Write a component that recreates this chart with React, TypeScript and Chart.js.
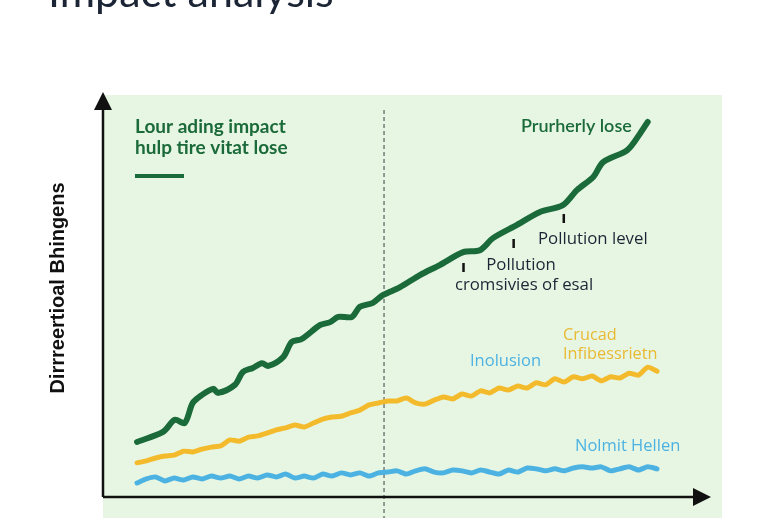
import React, { useEffect, useRef } from "react";
import { Chart, registerables } from "chart.js";

Chart.register(...registerables);

const noisyX = [5.5, 7, 8.5, 10, 11.5, 13, 14.5, 16, 17.5, 19, 20.5, 22, 23.5, 25, 26.5, 28, 29.5, 31, 32.5, 34, 35.5, 37, 38.5, 40, 41.5, 43, 44.5, 46, 47.5, 49, 50.5, 52, 53.5, 55, 56.5, 58, 59.5, 61, 62.5, 64, 65.5, 67, 68.5, 70, 71.5, 73, 74.5, 76, 77.5, 79, 80.5, 82, 83.5, 85, 86.5, 88, 89.5];

const yellowValues = [8.5, 9.0, 9.7, 10.2, 10.4, 11.4, 11.2, 11.9, 12.4, 12.7, 14.2, 13.9, 14.9, 15.2, 15.9, 16.7, 17.2, 17.9, 17.4, 18.4, 19.4, 19.9, 20.1, 20.9, 21.6, 22.9, 23.4, 23.9, 23.9, 24.6, 23.4, 23.1, 24.1, 24.9, 24.4, 25.6, 25.1, 26.4, 25.9, 27.1, 26.6, 27.6, 27.1, 28.4, 27.9, 29.4, 28.6, 29.9, 29.4, 30.1, 28.9, 29.9, 29.6, 30.8, 30.3, 32.3, 31.3];

const blueValues = [3.5, 4.5, 5.0, 4.0, 4.7, 4.2, 5.0, 4.5, 5.2, 4.7, 5.2, 4.5, 5.2, 4.7, 5.5, 5.0, 5.7, 4.7, 5.2, 4.7, 5.7, 5.2, 6.0, 5.5, 6.0, 5.2, 6.0, 6.2, 6.5, 5.7, 6.5, 7.0, 6.2, 6.0, 6.7, 6.5, 6.0, 6.7, 6.2, 5.7, 6.7, 6.2, 7.2, 7.0, 6.5, 7.0, 6.5, 7.2, 7.5, 7.2, 7.5, 6.5, 7.0, 7.5, 6.7, 7.5, 7.0];

const greenX = [5.5, 9.7, 11.6, 13.2, 14.5, 16.0, 17.8, 18.6, 21.3, 22.6, 24.2, 25.7, 26.7, 29.1, 30.5, 32.1, 35.1, 36.7, 38.0, 40.2, 41.5, 43.6, 45.2, 48.0, 51.2, 54.4, 58.2, 60.9, 63.0, 66.9, 70.6, 74.3, 76.6, 79.2, 80.8, 84.7, 86.8, 88.0];
const greenValues = [13.7, 16.2, 19.2, 18.4, 23.4, 25.4, 26.9, 25.9, 27.9, 31.1, 32.1, 33.3, 32.6, 34.8, 38.6, 39.3, 42.8, 43.5, 44.8, 44.8, 47.3, 48.3, 50.2, 52.2, 55.2, 57.7, 60.9, 61.4, 64.4, 67.7, 70.9, 72.6, 76.4, 79.6, 83.3, 86.3, 90.5, 93.3];

const dividerX = 45.4;
const markerX = [58.2, 66.3, 74.4];

const TITLE = "Impact analysis";
const NOTE_LINES = ["Lour ading impact", "hulp tire vitat lose"];
const Y_TITLE = "Dirrreertioal Bhingens";

const GREEN = "#1b6a3a";
const YELLOW = "#f3bb2c";
const BLUE = "#4cb2e2";
const NAVY = "#1b2535";

const decorPlugin = {
  id: "decor",
  beforeDraw(chart: any) {
    const ctx = chart.ctx;
    const a = chart.chartArea;
    ctx.save();
    ctx.fillStyle = "#ffffff";
    ctx.fillRect(0, 0, chart.width, chart.height);
    ctx.fillStyle = "#e7f6e3";
    ctx.fillRect(a.left, a.top, 619, chart.height - a.top);
    ctx.restore();
  },
  beforeDatasetsDraw(chart: any) {
    const ctx = chart.ctx;
    const xs = chart.scales.x;
    const px = xs.getPixelForValue(dividerX);
    ctx.save();
    ctx.strokeStyle = "#3a3f45";
    ctx.lineWidth = 1;
    ctx.setLineDash([4, 3]);
    ctx.beginPath();
    ctx.moveTo(px, 110);
    ctx.lineTo(px, chart.height);
    ctx.stroke();
    ctx.restore();
  },
  afterDraw(chart: any) {
    const ctx = chart.ctx;
    const a = chart.chartArea;
    const xs = chart.scales.x;
    ctx.save();
    // axes
    ctx.strokeStyle = "#111111";
    ctx.fillStyle = "#111111";
    ctx.lineWidth = 2.5;
    ctx.beginPath();
    ctx.moveTo(a.left, a.bottom);
    ctx.lineTo(a.left, 106);
    ctx.stroke();
    ctx.beginPath();
    ctx.moveTo(a.left, 92);
    ctx.lineTo(a.left - 9, 110);
    ctx.lineTo(a.left + 9, 110);
    ctx.closePath();
    ctx.fill();
    ctx.beginPath();
    ctx.moveTo(a.left, a.bottom);
    ctx.lineTo(696, a.bottom);
    ctx.stroke();
    ctx.beginPath();
    ctx.moveTo(711, a.bottom);
    ctx.lineTo(693, a.bottom - 9);
    ctx.lineTo(693, a.bottom + 9);
    ctx.closePath();
    ctx.fill();

    // title (cut off at top)
    ctx.fillStyle = NAVY;
    ctx.font = "43px Lato";
    ctx.textBaseline = "alphabetic";
    ctx.textAlign = "left";
    ctx.fillText(TITLE, 48, 7);

    // y title
    ctx.save();
    ctx.translate(58, 288);
    ctx.rotate(-Math.PI / 2);
    ctx.font = "bold 20px 'Liberation Sans'";
    ctx.fillStyle = "#111111";
    ctx.textAlign = "center";
    ctx.textBaseline = "middle";
    ctx.fillText(Y_TITLE, 0, 0);
    ctx.restore();

    // note top-left
    ctx.fillStyle = GREEN;
    ctx.font = "bold 19px Lato";
    ctx.textBaseline = "middle";
    ctx.fillText(NOTE_LINES[0], 135, 127);
    ctx.fillText(NOTE_LINES[1], 135, 148);
    ctx.fillRect(135, 174, 49, 4);

    // series labels
    ctx.font = "600 18px Lato";
    ctx.fillStyle = GREEN;
    ctx.fillText("Prurherly lose", 521, 126);

    ctx.font = "16.8px 'Open Sans'";
    ctx.fillStyle = NAVY;
    ctx.fillText("Pollution level", 538, 239);
    ctx.textAlign = "center";
    ctx.fillText("Pollution", 521, 265);
    ctx.fillText("cromsivies of esal", 524, 285);
    ctx.textAlign = "left";

    // markers
    ctx.fillStyle = "#111111";
    const markerTop = [263, 239, 214];
    markerX.forEach((mx, i) => {
      const p = xs.getPixelForValue(mx);
      ctx.fillRect(p - 1, markerTop[i], 2.5, 9);
    });

    ctx.font = "16.3px 'Open Sans'";
    ctx.fillStyle = "#e9b934";
    ctx.fillText("Crucad", 563, 335);
    ctx.fillText("Infibessrietn", 563, 354);

    ctx.fillStyle = BLUE;
    ctx.font = "16.5px 'Open Sans'";
    ctx.fillText("Inolusion", 470, 361);
    ctx.fillText("Nolmit Hellen", 575, 446);
    ctx.restore();
  },
};

export default function App() {
  const ref = useRef<HTMLCanvasElement | null>(null);
  useEffect(() => {
    if (!ref.current) return;
    const chart = new Chart(ref.current, {
      type: "line",
      data: {
        datasets: [
          {
            label: "Green",
            data: greenX.map((x, i) => ({ x, y: greenValues[i] })),
            borderColor: GREEN,
            borderWidth: 6,
            pointRadius: 0,
            tension: 0.3,
            borderCapStyle: "round",
            borderJoinStyle: "round",
          },
          {
            label: "Yellow",
            data: noisyX.map((x, i) => ({ x, y: yellowValues[i] })),
            borderColor: YELLOW,
            borderWidth: 5,
            pointRadius: 0,
            tension: 0.2,
            borderCapStyle: "round",
            borderJoinStyle: "round",
          },
          {
            label: "Blue",
            data: noisyX.map((x, i) => ({ x, y: blueValues[i] })),
            borderColor: BLUE,
            borderWidth: 5,
            pointRadius: 0,
            tension: 0.2,
            borderCapStyle: "round",
            borderJoinStyle: "round",
          },
        ],
      },
      options: {
        responsive: false,
        animation: false,
        devicePixelRatio: 1,
        layout: { padding: { left: 103, right: 48, top: 95, bottom: 21 } },
        scales: {
          x: { type: "linear", min: 0, max: 100, display: false },
          y: { type: "linear", min: 0, max: 100, display: false },
        },
        plugins: { legend: { display: false }, tooltip: { enabled: false }, title: { display: false } },
      },
      plugins: [decorPlugin],
    } as any);
    return () => chart.destroy();
  }, []);
  return (
    <div style={{ position: "fixed", left: 0, top: 0, width: 770, height: 518, background: "#fff" }}>
      <canvas ref={ref} width={770} height={518} style={{ display: "block" }} />
    </div>
  );
}
